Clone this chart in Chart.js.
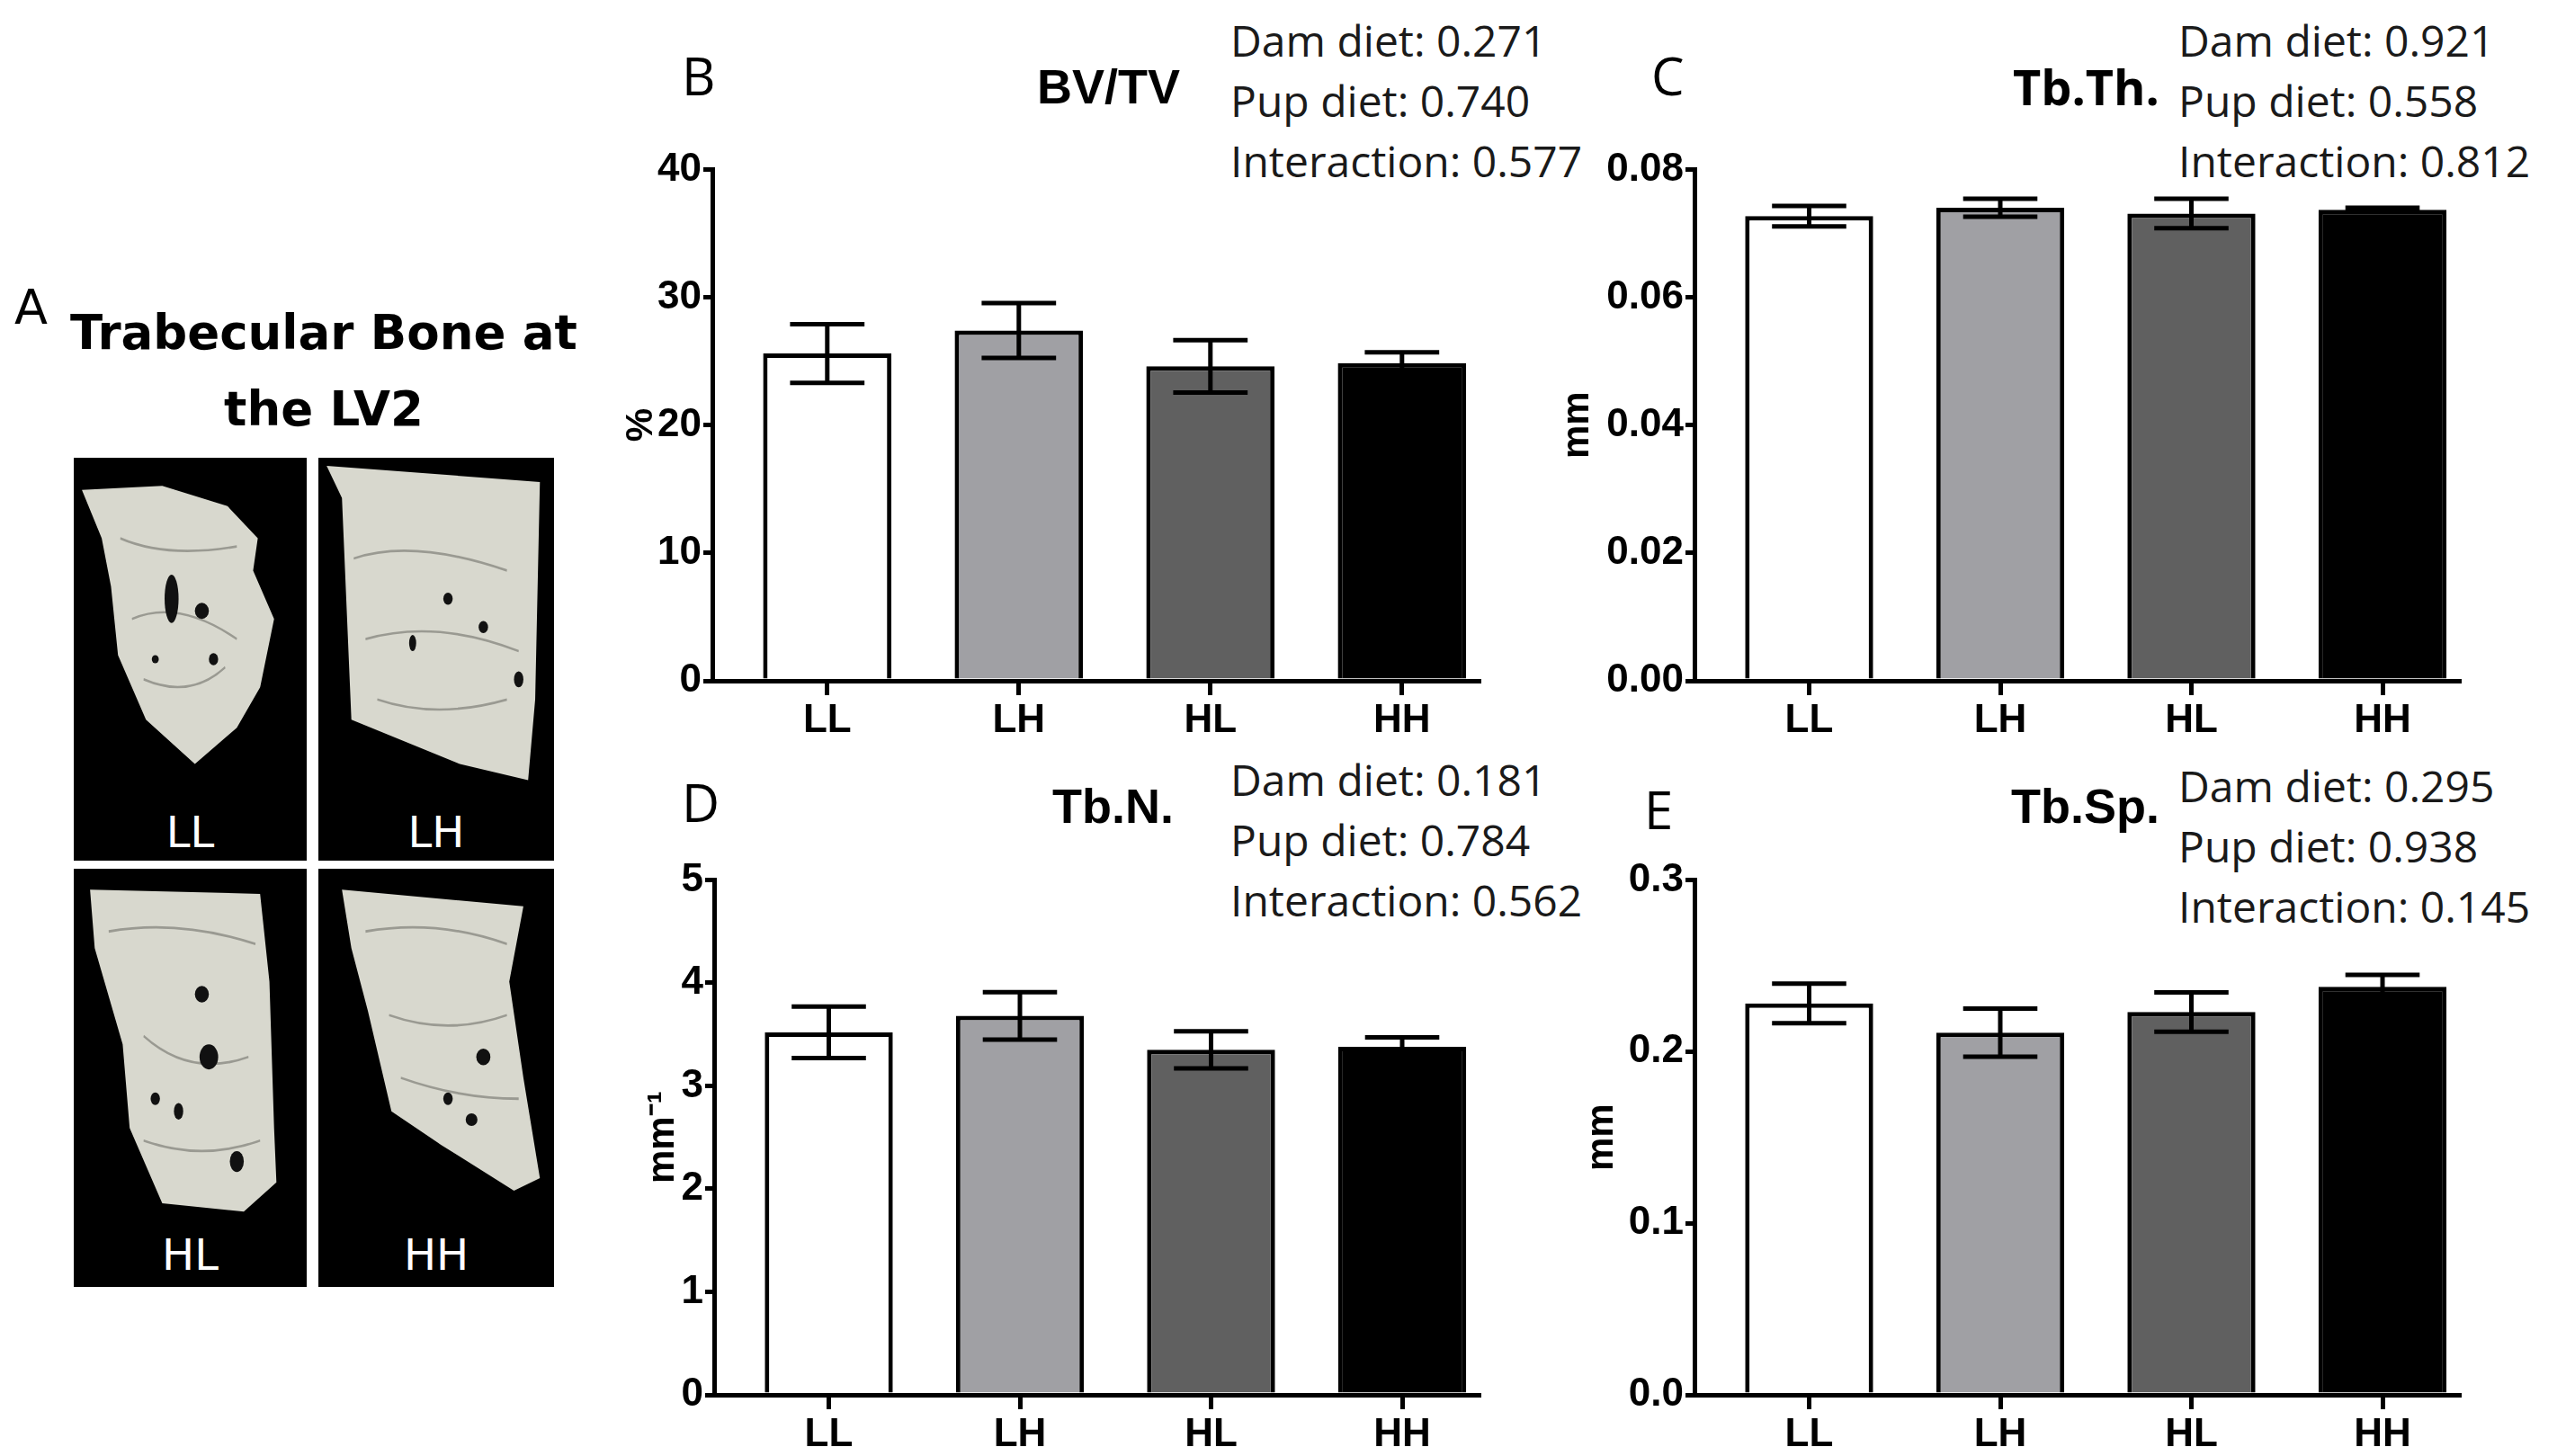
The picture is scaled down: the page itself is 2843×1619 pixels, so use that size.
<!DOCTYPE html>
<html><head><meta charset="utf-8">
<script src="https://cdn.jsdelivr.net/npm/chart.js@4.4.1/dist/chart.umd.min.js"></script>
<style>
html,body{margin:0;padding:0;background:#fff;}
#page{position:relative;width:2843px;height:1619px;overflow:hidden;background:#fff;}
canvas{position:absolute;}
.t{position:absolute;white-space:nowrap;line-height:1;transform:translateY(-50%);color:#000;}
.stats{position:absolute;white-space:nowrap;font-family:"Open Sans",sans-serif;font-size:48px;line-height:67px;color:#1a1a1a;}
.letter{font-family:"Open Sans",sans-serif;font-size:58px;}
.ptitle{font-family:"Liberation Sans",Arial,sans-serif;font-weight:bold;font-size:54px;}
.box{position:absolute;background:#000;}
.box svg{position:absolute;left:0;top:0;width:100%;height:100%;}
.blabel{position:absolute;left:0;width:100%;text-align:center;color:#fff;font-family:"DejaVu Sans",sans-serif;font-size:48px;line-height:1;transform:translateY(-50%);}
</style></head>
<body>
<div id="page">
  <!-- Panel A -->
  <div class="t" style="left:16px;top:342px;font-family:'DejaVu Sans',sans-serif;font-size:54px;">A</div>
  <div class="t" style="left:360px;top:369px;transform:translate(-50%,-50%);font-family:'DejaVu Sans',sans-serif;font-weight:bold;font-size:53px;">Trabecular Bone at</div>
  <div class="t" style="left:360px;top:454px;transform:translate(-50%,-50%);font-family:'DejaVu Sans',sans-serif;font-weight:bold;font-size:53px;">the LV2</div>

  <div class="box" style="left:82px;top:509px;width:259px;height:448px;">
    <svg viewBox="0 0 100 100" preserveAspectRatio="none">
      <polygon fill="#d8d8ce" points="3.5,8 38,7 66,12 79,20 77,28 86,40 80,57 70,67 52,76 31,65 19,49 16,32 12,20"/>
      <g fill="none" stroke="#9a9a92" stroke-width="0.6">
        <path d="M20,20 Q40,25 70,22"/><path d="M25,40 Q45,35 70,45"/><path d="M30,55 Q50,60 65,52"/>
      </g>
      <g fill="#111"><ellipse cx="42" cy="35" rx="3" ry="6"/><ellipse cx="55" cy="38" rx="3" ry="2"/><ellipse cx="60" cy="50" rx="2" ry="1.5"/><ellipse cx="35" cy="50" rx="1.5" ry="1"/></g>
    </svg>
    <div class="blabel" style="top:416px;">LL</div>
  </div>
  <div class="box" style="left:354px;top:509px;width:262px;height:448px;">
    <svg viewBox="0 0 100 100" preserveAspectRatio="none">
      <polygon fill="#d8d8ce" points="3.5,2 94,6 92,60 89,80 60,76 14,65 10,10"/>
      <g fill="none" stroke="#9a9a92" stroke-width="0.6">
        <path d="M15,25 Q40,20 80,28"/><path d="M20,45 Q50,40 85,48"/><path d="M25,60 Q50,65 80,60"/>
      </g>
      <g fill="#111"><ellipse cx="55" cy="35" rx="2" ry="1.5"/><ellipse cx="70" cy="42" rx="2" ry="1.5"/><ellipse cx="40" cy="46" rx="1.5" ry="2"/><ellipse cx="85" cy="55" rx="2" ry="2"/></g>
    </svg>
    <div class="blabel" style="top:416px;">LH</div>
  </div>
  <div class="box" style="left:82px;top:966px;width:259px;height:465px;">
    <svg viewBox="0 0 100 100" preserveAspectRatio="none">
      <polygon fill="#d8d8ce" points="7,5 80,6 84,27 86,62 87,75 73,82 38,80 24,62 21,42 9,19"/>
      <g fill="none" stroke="#9a9a92" stroke-width="0.6">
        <path d="M15,15 Q45,12 78,18"/><path d="M30,40 Q50,50 75,45"/><path d="M30,65 Q55,70 80,65"/>
      </g>
      <g fill="#111"><ellipse cx="55" cy="30" rx="3" ry="2"/><ellipse cx="58" cy="45" rx="4" ry="3"/><ellipse cx="45" cy="58" rx="2" ry="2"/><ellipse cx="70" cy="70" rx="3" ry="2.5"/><ellipse cx="35" cy="55" rx="2" ry="1.5"/></g>
    </svg>
    <div class="blabel" style="top:429px;">HL</div>
  </div>
  <div class="box" style="left:354px;top:966px;width:262px;height:465px;">
    <svg viewBox="0 0 100 100" preserveAspectRatio="none">
      <polygon fill="#d8d8ce" points="10,5 87,9 81,27 87,50 94,74 83,77 52,66 31,58 21,34 14,19"/>
      <g fill="none" stroke="#9a9a92" stroke-width="0.6">
        <path d="M20,15 Q50,12 80,18"/><path d="M30,35 Q55,40 80,35"/><path d="M35,50 Q60,55 85,55"/>
      </g>
      <g fill="#111"><ellipse cx="70" cy="45" rx="3" ry="2"/><ellipse cx="55" cy="55" rx="2" ry="1.5"/><ellipse cx="65" cy="60" rx="2.5" ry="1.5"/></g>
    </svg>
    <div class="blabel" style="top:429px;">HH</div>
  </div>

  <!-- Panel letters and titles -->
  <div class="t letter" style="left:758px;top:84px;">B</div>
  <div class="t letter" style="left:1836px;top:84px;">C</div>
  <div class="t letter" style="left:758px;top:892px;">D</div>
  <div class="t letter" style="left:1828px;top:900px;">E</div>

  <div class="t ptitle" style="left:1153px;top:96px;">BV/TV</div>
  <div class="t" style="left:2238px;top:96px;font-family:'Open Sans',sans-serif;font-weight:bold;font-size:54px;">Tb.Th.</div>
  <div class="t ptitle" style="left:1170px;top:896px;">Tb.N.</div>
  <div class="t ptitle" style="left:2236px;top:896px;">Tb.Sp.</div>

  <div class="stats" id="statsB" style="left:1368px;top:11px;"></div>
  <div class="stats" id="statsC" style="left:2422px;top:11px;"></div>
  <div class="stats" id="statsD" style="left:1368px;top:833px;"></div>
  <div class="stats" id="statsE" style="left:2422px;top:840px;"></div>

  <canvas id="cB" width="992" height="661" style="left:688px;top:160px;"></canvas>
  <canvas id="cC" width="1041" height="661" style="left:1729px;top:160px;"></canvas>
  <canvas id="cD" width="968" height="665" style="left:712px;top:950px;"></canvas>
  <canvas id="cE" width="1014" height="665" style="left:1756px;top:950px;"></canvas>
</div>
<script>
// ---- Data ----
const groups = ['LL', 'LH', 'HL', 'HH'];
const groupPos = [0, 1, 2, 3];
const barColors = ['#ffffff', '#a0a0a4', '#606060', '#000000'];

const bvtvMean = [25.6, 27.4, 24.6, 24.85];
const bvtvSem  = [2.3, 2.15, 2.05, 0.85];
const bvtvTicks = [0, 10, 20, 30, 40];
const bvtvTickLabels = ['0', '10', '20', '30', '40'];

const tbthMean = [0.0727, 0.0740, 0.0731, 0.0737];
const tbthSem  = [0.0016, 0.0014, 0.0023, 0.0003];
const tbthTicks = [0, 0.02, 0.04, 0.06, 0.08];
const tbthTickLabels = ['0.00', '0.02', '0.04', '0.06', '0.08'];

const tbnMean = [3.52, 3.68, 3.35, 3.38];
const tbnSem  = [0.25, 0.23, 0.18, 0.09];
const tbnTicks = [0, 1, 2, 3, 4, 5];
const tbnTickLabels = ['0', '1', '2', '3', '4', '5'];

const tbspMean = [0.228, 0.211, 0.223, 0.2377];
const tbspSem  = [0.0115, 0.014, 0.0115, 0.007];
const tbspTicks = [0, 0.1, 0.2, 0.3];
const tbspTickLabels = ['0.0', '0.1', '0.2', '0.3'];

const statsLabels = ['Dam diet', 'Pup diet', 'Interaction'];
const bvtvP = ['0.271', '0.740', '0.577'];
const tbthP = ['0.921', '0.558', '0.812'];
const tbnP  = ['0.181', '0.784', '0.562'];
const tbspP = ['0.295', '0.938', '0.145'];

function fillStats(id, vals) {
  document.getElementById(id).innerHTML = statsLabels.map((l, i) => l + ': ' + vals[i]).join('<br>');
}
fillStats('statsB', bvtvP);
fillStats('statsC', tbthP);
fillStats('statsD', tbnP);
fillStats('statsE', tbspP);

const axisFont = '"Liberation Sans Narrow", "Liberation Sans", Arial, sans-serif';

const errorBarPlugin = {
  id: 'errorBars',
  afterDatasetsDraw(chart, args, opts) {
    const ctx = chart.ctx;
    const meta = chart.getDatasetMeta(0);
    const y = chart.scales.y;
    ctx.save();
    ctx.strokeStyle = '#000';
    ctx.lineWidth = 5;
    ctx.lineCap = 'butt';
    meta.data.forEach((bar, i) => {
      const m = opts.means[i], s = opts.sems[i];
      const yt = y.getPixelForValue(m + s);
      const yb = y.getPixelForValue(m - s);
      const half = bar.width * 0.29;
      ctx.beginPath();
      ctx.moveTo(bar.x, yt); ctx.lineTo(bar.x, yb);
      ctx.moveTo(bar.x - half, yt); ctx.lineTo(bar.x + half, yt);
      ctx.moveTo(bar.x - half, yb); ctx.lineTo(bar.x + half, yb);
      ctx.stroke();
    });
    ctx.restore();
  }
};

function makeChart(id, means, sems, ticks, tickLabels, yTitle, yWidth, padTop) {
  return new Chart(document.getElementById(id), {
    type: 'bar',
    data: {
      datasets: [{
        data: groupPos.map((x, i) => ({ x: x, y: means[i] })),
        backgroundColor: barColors,
        borderColor: '#000',
        borderWidth: 5,
        barPercentage: 0.67,
        categoryPercentage: 1
      }]
    },
    options: {
      responsive: false,
      animation: false,
      devicePixelRatio: 1,
      layout: { padding: { top: padTop, right: 36, left: 0, bottom: 0 } },
      plugins: {
        legend: { display: false },
        tooltip: { enabled: false },
        errorBars: { means: means, sems: sems }
      },
      scales: {
        x: {
          type: 'linear', min: -0.6, max: 3.4, z: 1, offset: false,
          afterBuildTicks: s => { s.ticks = groupPos.map(v => ({ value: v })); },
          afterFit: s => { s.height = 64; },
          grid: { display: true, offset: false, drawOnChartArea: false, drawTicks: true, tickLength: 16, lineWidth: 5, color: '#000' },
          border: { display: true, width: 5, color: '#000' },
          ticks: { callback: (v, i) => groups[i], color: '#000', font: { family: axisFont, size: 44, weight: 'bold' }, padding: 2, maxRotation: 0, autoSkip: false }
        },
        y: {
          min: 0, max: ticks[ticks.length - 1],
          afterBuildTicks: s => { s.ticks = ticks.map(v => ({ value: v })); },
          afterFit: s => { s.width = yWidth; },
          grid: { display: true, drawOnChartArea: false, drawTicks: true, tickLength: 10, lineWidth: 5, color: '#000' },
          border: { display: true, width: 5, color: '#000' },
          ticks: { callback: (v, i) => tickLabels[i], color: '#000', font: { family: axisFont, size: 44, weight: 'bold' }, padding: 2, autoSkip: false },
          title: { display: true, text: yTitle, color: '#000', font: { family: 'Liberation Sans, Arial, sans-serif', size: 42, weight: 'bold' }, padding: { top: 0, bottom: 0 } }
        }
      }
    },
    plugins: [errorBarPlugin]
  });
}

makeChart('cB', bvtvMean, bvtvSem, bvtvTicks, bvtvTickLabels, '%', 104, 23);
makeChart('cC', tbthMean, tbthSem, tbthTicks, tbthTickLabels, 'mm', 155, 23);
makeChart('cD', tbnMean, tbnSem, tbnTicks, tbnTickLabels, 'mm\u207B\u00B9', 82, 27);
makeChart('cE', tbspMean, tbspSem, tbspTicks, tbspTickLabels, 'mm', 128, 27);
</script>
</body></html>
